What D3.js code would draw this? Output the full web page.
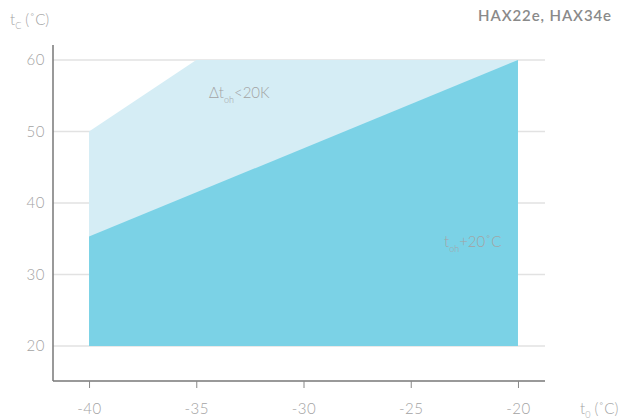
<!DOCTYPE html>
<html><head><meta charset="utf-8">
<script src="https://cdn.jsdelivr.net/npm/d3@7"></script>
<style>body{margin:0;background:#fff;}svg{display:block;font-family:Lato,"Open Sans",sans-serif;}</style>
</head><body><svg id="c" width="622" height="419"></svg>
<script>
const xTicks = [-40, -35, -30, -25, -20];
const yTicks = [20, 30, 40, 50, 60];
// operating envelope (outer) boundary: t0 vs tc
const envT0 = [-40, -40, -35, -20, -20];
const envTc = [20, 50, 60, 60, 20];
// superheat +20°C region boundary
const shT0 = [-40, -40, -20, -20];
const shTc = [20, 35.3, 60, 20];

const svg = d3.select("#c");
const x = d3.scaleLinear().domain([-41.68, -18.74]).range([53, 545]);
const y = d3.scaleLinear().domain([15.1, 62.1]).range([381, 45]);
const grey = "#a3a3a3";

// gridlines
svg.append("g").selectAll("line").data(yTicks).join("line")
  .attr("x1", 53).attr("x2", 545)
  .attr("y1", d => y(d)).attr("y2", d => y(d))
  .attr("stroke", "#e2e2e2").attr("stroke-width", 1.5);

const line = d3.line().x(d => x(d[0])).y(d => y(d[1]));
svg.append("path").attr("d", line(d3.zip(envT0, envTc)) + "Z").attr("fill", "#d5edf5");
svg.append("path").attr("d", line(d3.zip(shT0, shTc)) + "Z").attr("fill", "#7bd2e6");

// axes
const xa = svg.append("g").attr("transform", "translate(0,381)")
  .call(d3.axisBottom(x).tickValues(xTicks).tickSize(7).tickPadding(15).tickFormat(d => String(d)));
const ya = svg.append("g").attr("transform", "translate(53,0)")
  .call(d3.axisLeft(y).tickValues(yTicks).tickSize(0).tickPadding(8));
[xa, ya].forEach(a => {
  a.select(".domain").attr("stroke", "#777").attr("stroke-width", 1.5);
  a.selectAll(".tick line").attr("stroke", "#888");
  a.selectAll("text").attr("fill", grey).attr("font-size", 15).attr("letter-spacing", "0.5px")
    .attr("font-family", "Lato, sans-serif").attr("font-weight", 300);
});
xa.select(".domain").attr("d", "M53,0H545");
ya.select(".domain").attr("d", "M0,45V381");

// titles
const t1 = svg.append("text").attr("x", 10).attr("y", 25).attr("fill", grey).attr("font-size", 15).attr("font-weight", 300);
t1.append("tspan").text("t");
t1.append("tspan").attr("font-size", 9).attr("dy", 4).text("C");
t1.append("tspan").attr("dy", -4).text(" (˚C)");

const t2 = svg.append("text").attr("x", 580).attr("y", 414).attr("fill", grey).attr("font-size", 15).attr("font-weight", 300);
t2.append("tspan").text("t");
t2.append("tspan").attr("font-size", 9).attr("dy", 4).text("0");
t2.append("tspan").attr("dy", -4).text(" (˚C)");

svg.append("text").attr("x", 612).attr("y", 21).attr("text-anchor", "end")
  .attr("fill", "#8a8a8a").attr("font-size", 15).attr("font-weight", 600).attr("letter-spacing", "0.9px").text("HAX22e, HAX34e");

const l1 = svg.append("text").attr("x", 209).attr("y", 98).attr("fill", grey).attr("font-size", 15).attr("font-weight", 300);
l1.append("tspan").text("Δt");
l1.append("tspan").attr("font-size", 9).attr("dy", 5).text("oh");
l1.append("tspan").attr("dy", -5).text("<20K");

const l2 = svg.append("text").attr("x", 444).attr("y", 247).attr("fill", grey).attr("font-size", 15).attr("font-weight", 300);
l2.append("tspan").text("t");
l2.append("tspan").attr("font-size", 9).attr("dy", 5).text("oh");
l2.append("tspan").attr("dy", -5).text("+20˚C");
</script></body></html>
